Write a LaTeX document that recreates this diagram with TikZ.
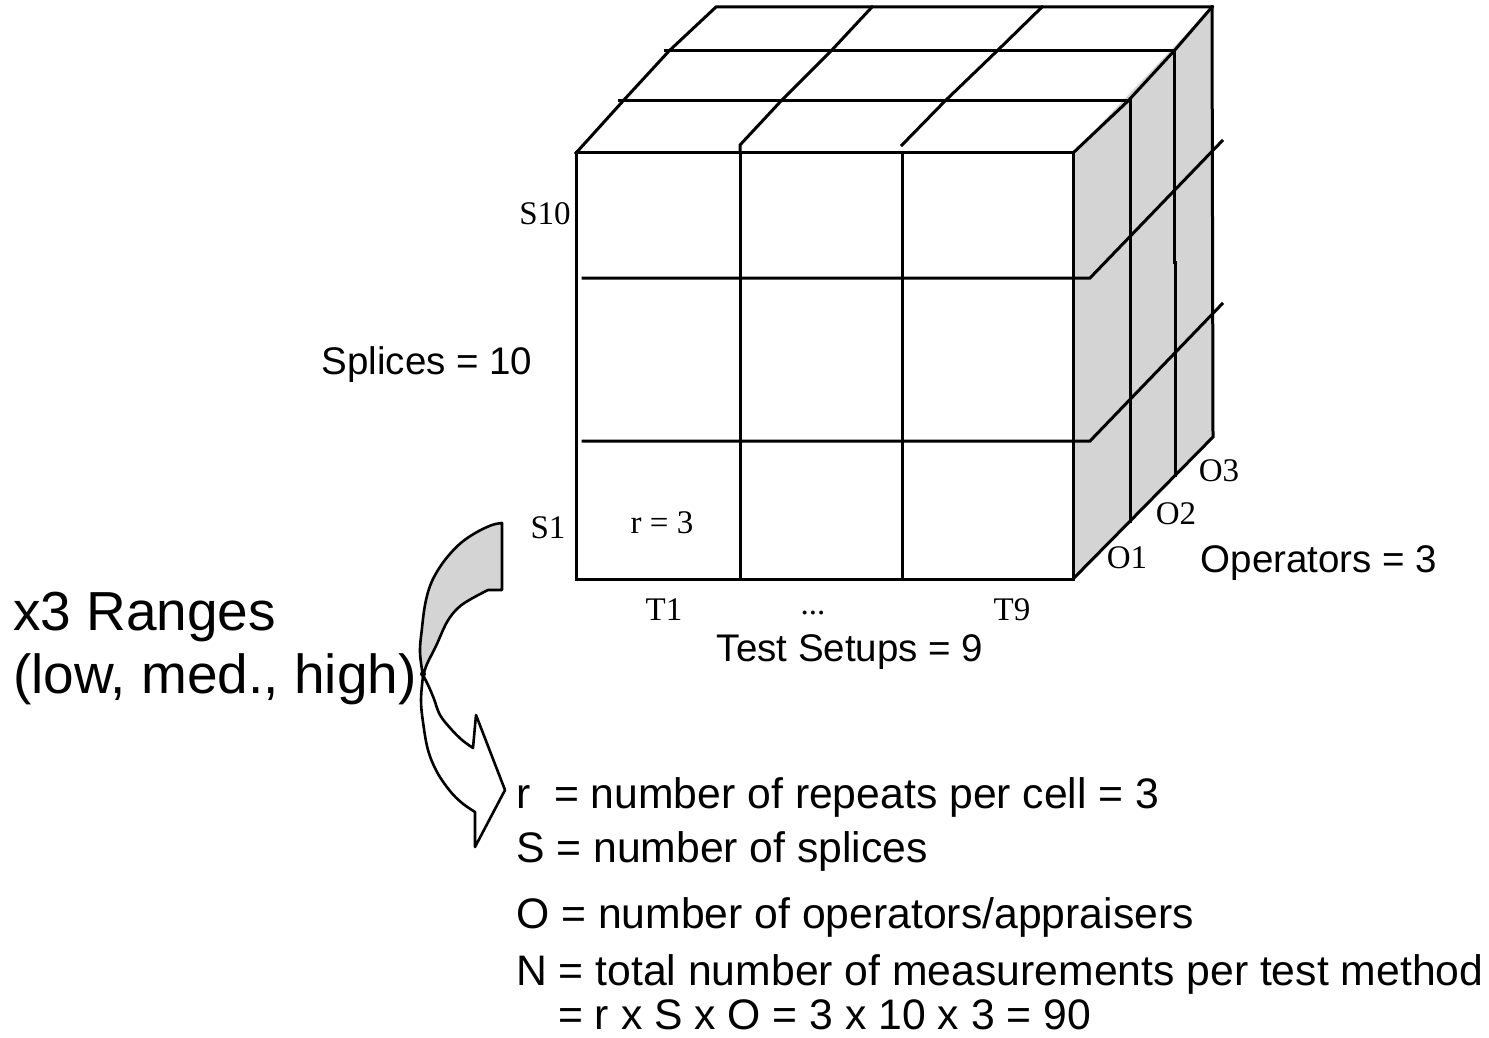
\documentclass[tikz,border=0pt]{standalone}
\usepackage{fontspec}
\setmainfont{Liberation Serif}
\newfontfamily\arialf{Liberation Sans}
\definecolor{faceg}{RGB}{212,212,212}
\tikzset{
  cubeline/.style={line width=3pt, line join=miter, line cap=rect},
  arrline/.style={line width=2.6pt, line join=round},
  tlab/.style={font=\fontsize{33}{33}\selectfont, inner sep=0pt, anchor=base},
  slab/.style={font=\arialf\fontsize{38.5}{40}\selectfont, inner sep=0pt, anchor=base},
  biglab/.style={font=\arialf\fontsize{55}{57}\selectfont, inner sep=0pt, anchor=base west},
  eqlab/.style={font=\arialf\fontsize{42.7}{44}\selectfont, inner sep=0pt, anchor=base west}
}
\begin{document}
\begin{tikzpicture}[x=1pt,y=-1pt]
\useasboundingbox (0,0) rectangle (1489,1038);

% ---------- right face (shaded) ----------
\coordinate (ftl) at (576,153);
\coordinate (ftr) at (1073,153);
\coordinate (fbl) at (576,579);
\coordinate (fbr) at (1073,579);
\coordinate (btr) at (1212,7);
\coordinate (bbr) at (1213,437);
\fill[faceg] (ftr) -- (btr) -- (bbr) -- (fbr) -- cycle;

% ---------- front face ----------
\draw[cubeline] (ftl) rectangle (fbr);
\draw[cubeline] (740,153) -- (740,579);
\draw[cubeline] (902,153) -- (902,579);
\draw[cubeline] (583,278) -- (1090,278) -- (1222,141);
\draw[cubeline] (583,441) -- (1090,441) -- (1222,304);

% ---------- top face ----------
\draw[cubeline] (ftl) -- (623,101) -- (669,51) -- (716,7) -- (btr);
\draw[cubeline] (740,153) -- (740,145) -- (781,101) -- (831,51) -- (872,7);
\draw[cubeline] (902,145) -- (945,101) -- (997,51) -- (1042,7);
\draw[cubeline] (ftr) -- (1128,101) -- (1174,51) -- (btr);
\draw[cubeline] (619,101) -- (1128,101);
\draw[cubeline] (665,51) -- (1174,51);

% ---------- right face lines ----------
\draw[cubeline] (1130,101) -- (1130,521);
\draw[cubeline] (1174,51) -- (1174,262) -- (1175,262) -- (1175,475);
\draw[cubeline] (btr) -- (bbr) -- (fbr);

% ---------- cube labels ----------
\node[tlab] (s10) at (545,224) {S10};
\node[tlab] (s1) at (548,538) {S1};
\node[tlab] (r3) at (662,533) {r = 3};
\node[tlab] (t1) at (664,620) {T1};
\node[tlab] (tdots) at (813,614) {...};
\node[tlab] (t9) at (1012,620) {T9};
\node[tlab] (o1) at (1127,568) {O1};
\node[tlab] (o2) at (1176,524) {O2};
\node[tlab] (o3) at (1219,481) {O3};
\node[slab] (splices) at (427,374) {Splices = 10};
\node[slab] (setups) at (850,661) {Test Setups = 9};
\node[slab] (ops) at (1319,572) {Operators = 3};

% ---------- ranges text ----------
\node[biglab] (ranges) at (13,630) {x3 Ranges};
\node[biglab] (lmh) at (13,693) {(low, med., high)};

% ---------- curved arrow ----------
\filldraw[arrline, fill=faceg] (502,523) -- (502,590) --
  plot[smooth, tension=0.6] coordinates {(488,590) (471,599) (458,608) (447,622) (436,646) (427,664) (423,676)}
  -- plot[smooth, tension=0.6] coordinates {(423,676) (420,652) (422,628) (425,605) (430,586) (438,570) (449,555) (462,542) (477,532) (492,525) (502,523)}
  -- cycle;
\filldraw[arrline, fill=white] (423,676) --
  plot[smooth, tension=0.6] coordinates {(423,676) (421,700) (423,722) (428,750) (437,772) (450,791) (462,803) (475,812)}
  -- (475,847) -- (505,790) -- (476,715) -- (473,748)
  -- plot[smooth, tension=0.6] coordinates {(473,748) (462,740) (451,729) (440,715) (434,699) (429,687) (424,677)}
  -- cycle;
\fill (423,674) circle (3pt);

% ---------- definitions ----------
\node[eqlab] (lr) at (516,808) {r\ \ = number of repeats per cell = 3};
\node[eqlab] (ls) at (516,862) {S = number of splices};
\node[eqlab] (lo) at (516,928) {O = number of operators/appraisers};
\node[eqlab] (ln) at (516,985) {N = total number of measurements per test method};
\node[eqlab] (ln2) at (558,1029) {= r x S x O = 3 x 10 x 3 = 90};
\end{tikzpicture}
\end{document}
